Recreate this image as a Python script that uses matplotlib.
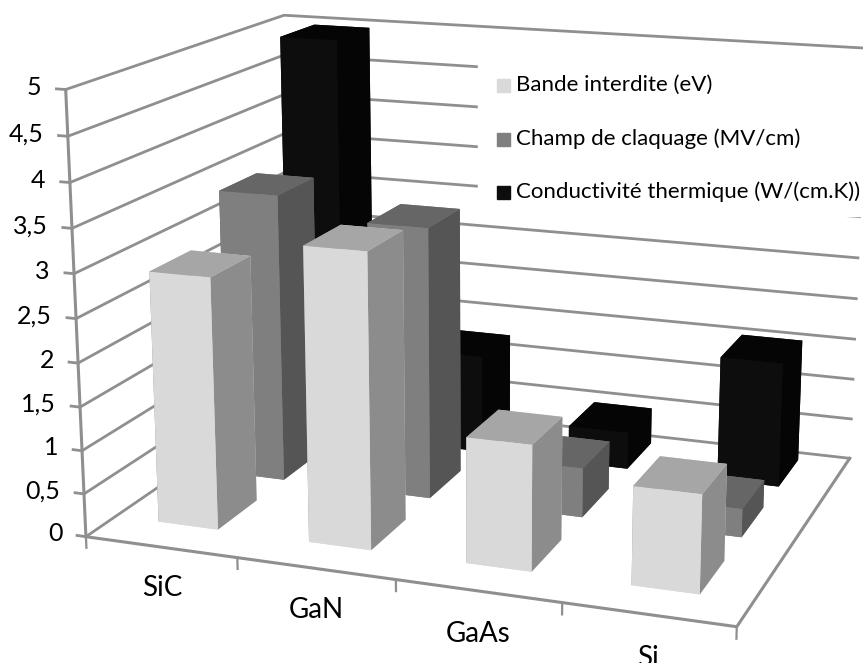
import matplotlib
matplotlib.use("Agg")
import matplotlib.pyplot as plt
from matplotlib.patches import Rectangle

plt.rcParams['font.family'] = ['Lato', 'DejaVu Sans']

categories = ["SiC", "GaN", "GaAs", "Si"]
series_names = ["Bande interdite (eV)", "Champ de claquage (MV/cm)", "Conductivité thermique (W/(cm.K))"]
bandgap = [2.9, 3.35, 1.42, 1.1]
field = [3.43, 3.2, 0.58, 0.33]
conductivity = [4.95, 1.2, 0.45, 1.5]
z_ticks = [0, 0.5, 1, 1.5, 2, 2.5, 3, 3.5, 4, 4.5, 5]
z_labels = ["0", "0,5", "1", "1,5", "2", "2,5", "3", "3,5", "4", "4,5", "5"]

# bottom, top, front, back, left, right
face_colors = [
    ["#d9d9d9", "#a6a6a6", "#d9d9d9", "#d9d9d9", "#8c8c8c", "#8c8c8c"],
    ["#7f7f7f", "#666666", "#7f7f7f", "#7f7f7f", "#555555", "#555555"],
    ["#0d0d0d", "#050505", "#0d0d0d", "#0d0d0d", "#050505", "#050505"],
]
grid_col = "#8f8f8f"

fig = plt.figure(figsize=(8.63, 6.63), dpi=100)
# 3d axes are forced square, make it bigger than the figure so nothing gets clipped
side = 900
ax = fig.add_axes([(473 - side / 2) / 863, (364 - side / 2) / 663, side / 863, side / 663],
                  projection='3d', computed_zorder=False)
ax.set_axis_off()
ax.set_proj_type('persp', focal_length=0.5)
ax.view_init(elev=15, azim=-70)
ax.set_box_aspect((2.95, 2.2, 2.0), zoom=1.0)
ax.set_xlim(0, 4)
ax.set_ylim(0, 3)
ax.set_zlim(0, 5)

# walls
for z in z_ticks:
    ax.plot([0, 0, 4], [0, 3, 3], [z, z, z], color=grid_col, lw=2, zorder=1)
ax.plot([0, 0], [0, 0], [0, 5], color=grid_col, lw=2.2, zorder=1)
ax.plot([0, 4, 4], [0, 0, 3], [0, 0, 0], color=grid_col, lw=2.2, zorder=1)
for i in range(5):
    ax.plot([i, i], [0, 0], [0, -0.13], color=grid_col, lw=1.6, zorder=1)
for z, lab in zip(z_ticks, z_labels):
    ax.plot([0, -0.06], [0, 0], [z, z], color=grid_col, lw=2, zorder=1)
    ax.text(-0.16, 0, z, lab, ha='right', va='center', fontsize=18, zorder=5)
for i, c in enumerate(categories):
    ax.text(i + 0.5, 0, -0.48, c, ha='center', va='center', fontsize=20, zorder=5)

# bars, back row first
order = 10
for s, vals in reversed(list(enumerate([bandgap, field, conductivity]))):
    for i, v in enumerate(vals):
        ax.bar3d(i + 0.29, s * 0.96 + 0.38, 0, 0.4, 0.55, v, color=face_colors[s], shade=False, zorder=order)
        order += 1

# white box behind the legend hides the back wall grid there
fig.patches.append(Rectangle((478 / 863, 1 - 216 / 663), 385 / 863, 166 / 663, transform=fig.transFigure, color="white"))
leg_y = [85, 139, 192]
leg_c = ["#d9d9d9", "#7f7f7f", "#0d0d0d"]
for y, name, c in zip(leg_y, series_names, leg_c):
    fig.patches.append(Rectangle((497 / 863, 1 - (y + 7) / 663), 13 / 863, 13 / 663, transform=fig.transFigure, color=c))
    fig.text(516 / 863, 1 - y / 663, name, fontsize=16, va='center', ha='left')

fig.savefig("out.png", dpi=100)
